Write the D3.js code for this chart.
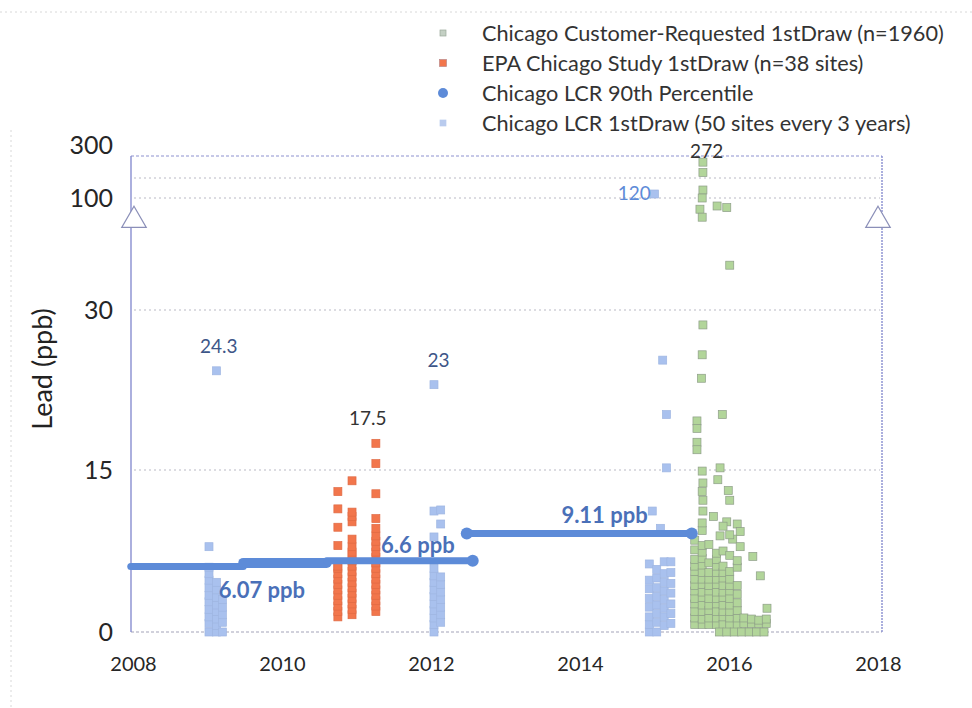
<!DOCTYPE html>
<html>
<head>
<meta charset="utf-8">
<script src="https://cdn.jsdelivr.net/npm/d3@7"></script>
<style>
  body { margin: 0; background: #fff; }
  svg { font-family: Lato, "Open Sans", sans-serif; }
</style>
</head>
<body>
<svg id="chart" width="972" height="708"></svg>
<script>
// Chicago LCR 1stDraw (light blue squares)
var lcrYears = [
  2009.02, 2009.02, 2009.02, 2009.02, 2009.02, 2009.02, 2009.02, 2009.02, 2009.02, 2009.02, 2009.02,
  2009.12, 2009.12, 2009.12, 2009.12, 2009.12, 2009.12, 2009.12, 2009.12, 2009.12,
  2009.2, 2009.2, 2009.2, 2009.2, 2009.2,
  2012.04, 2012.04, 2012.04, 2012.04, 2012.04, 2012.04, 2012.04, 2012.04, 2012.04, 2012.04, 2012.04, 2012.04, 2012.04,
  2012.13, 2012.13, 2012.13, 2012.13, 2012.13, 2012.13, 2012.13, 2012.13, 2012.13,
  2014.93, 2014.93, 2014.93, 2014.93, 2014.93, 2014.93, 2014.93, 2014.93,
  2015.03, 2015.03, 2015.03, 2015.03, 2015.03, 2015.03, 2015.03, 2015.03, 2014.97, 2015.0,
  2015.13, 2015.13, 2015.13, 2015.13, 2015.13, 2015.13, 2015.13, 2015.13, 2015.08, 2015.11,
  2015.22, 2015.22, 2015.22, 2015.22, 2015.22, 2015.22, 2015.22, 2015.16, 2015.16
];
var lcrValues = [
  0, 0.8, 1.4, 2.1, 2.8, 3.4, 4.1, 4.8, 5.4, 6.0, 7.9,
  0, 0.6, 1.2, 1.9, 2.5, 3.2, 3.9, 4.6, 24.3,
  0, 0.9, 1.6, 2.3, 3.0,
  0, 0.7, 1.3, 2.0, 2.6, 3.3, 3.9, 4.6, 5.2, 5.9, 8.8, 11.2, 23,
  0.9, 1.6, 2.3, 3.0, 3.7, 4.4, 5.1, 10.0, 11.3,
  0, 0.7, 1.4, 2.3, 3.1, 4.0, 4.8, 6.3,
  0, 0.9, 1.7, 2.5, 3.3, 4.1, 5.0, 5.8, 11.2, 120,
  0.6, 1.4, 2.2, 3.0, 3.8, 4.6, 5.4, 6.5, 9.6, 25.3,
  0.8, 1.7, 2.6, 3.6, 4.5, 5.5, 6.5, 15.2, 20.2
];

// EPA Chicago Study 1stDraw (orange squares)
var epaYears = [
  2010.75, 2010.75, 2010.75, 2010.75, 2010.75, 2010.75, 2010.75, 2010.75, 2010.75, 2010.75, 2010.75, 2010.75, 2010.75, 2010.75, 2010.75,
  2010.94, 2010.94, 2010.94, 2010.94, 2010.94, 2010.94, 2010.94, 2010.94, 2010.94, 2010.94, 2010.94, 2010.94, 2010.94, 2010.94, 2010.94, 2010.94, 2010.94, 2010.94, 2010.94,
  2011.26, 2011.26, 2011.26, 2011.26, 2011.26, 2011.26, 2011.26, 2011.26, 2011.26, 2011.26, 2011.26, 2011.26, 2011.26, 2011.26, 2011.26, 2011.26, 2011.26, 2011.26, 2011.26, 2011.26
];
var epaValues = [
  1.4, 1.9, 2.4, 2.9, 3.4, 3.9, 4.4, 4.9, 5.4, 5.9, 6.1, 8.0, 9.7, 11.4, 13.0,
  1.6, 2.1, 2.6, 3.1, 3.6, 4.1, 4.6, 5.1, 5.6, 6.1, 6.6, 7.1, 7.4, 7.9, 8.6, 10.2, 10.7, 11.1, 14.0,
  1.9, 2.4, 2.9, 3.4, 3.9, 4.4, 4.9, 5.4, 5.9, 6.4, 6.9, 7.4, 7.9, 8.4, 8.9, 9.6, 10.5, 12.8, 15.6, 17.5
];

// Chicago LCR 90th percentile (compliance periods)
var p90Start = [2007.97, 2009.48, 2010.6, 2012.48];
var p90End = [2009.48, 2010.6, 2012.56, 2015.5];
var p90Values = [6.07, 6.4, 6.6, 9.11];
var p90DotYears = [2012.56, 2012.48, 2015.5];
var p90DotValues = [6.6, 9.11, 9.11];

// Chicago Customer-Requested 1stDraw (green squares)
var custYears = [
  2015.65, 2015.65, 2015.65, 2015.64, 2015.61, 2015.64, 2015.84, 2015.97, 2016.01,
  2015.65, 2015.64, 2015.63, 2015.91, 2015.57, 2015.57, 2015.57, 2015.57,
  2015.88, 2015.64, 2015.85, 2015.65, 2015.99, 2015.64, 2016.01, 2015.65, 2015.65,
  2015.79, 2015.97, 2016.11, 2016.15, 2015.88, 2016.05, 2016.15, 2016.32, 2016.42, 2016.51,
  2015.54, 2015.54, 2015.54, 2015.54, 2015.54, 2015.54, 2015.54, 2015.54, 2015.54, 2015.54, 2015.54, 2015.54, 2015.54,
  2015.64, 2015.64, 2015.64, 2015.64, 2015.64, 2015.64, 2015.64, 2015.64, 2015.64, 2015.64, 2015.64, 2015.64, 2015.64, 2015.64, 2015.64,
  2015.73, 2015.73, 2015.73, 2015.73, 2015.73, 2015.73, 2015.73, 2015.73, 2015.73, 2015.73, 2015.73,
  2015.83, 2015.83, 2015.83, 2015.83, 2015.83, 2015.83, 2015.83, 2015.83, 2015.83, 2015.83, 2015.83, 2015.83,
  2015.92, 2015.92, 2015.92, 2015.92, 2015.92, 2015.92, 2015.92, 2015.92, 2015.92, 2015.92, 2015.92, 2015.92,
  2016.01, 2016.01, 2016.01, 2016.01, 2016.01, 2016.01, 2016.01, 2016.01, 2016.01, 2016.01, 2016.01,
  2016.11, 2016.11, 2016.11, 2016.11, 2016.11, 2016.11, 2016.11, 2016.11,
  2016.2, 2016.3, 2016.4, 2016.5, 2016.2, 2016.3, 2016.4, 2016.5,
  2015.87, 2015.97, 2016.07, 2016.17, 2016.27, 2016.37, 2016.47
];
var custValues = [
  272, 225, 140, 100, 93, 88, 95, 94, 58,
  28.6, 25.8, 23.6, 20.2, 19.6, 18.9, 17.6, 16.9,
  15.2, 14.9, 14.1, 13.8, 13.1, 13.0, 12.2, 12.2, 11.2,
  10.7, 10.2, 10.0, 9.3, 8.9, 8.6, 7.9, 7.0, 5.2, 2.2,
  0.7, 1.3, 1.9, 2.6, 3.1, 3.8, 4.3, 4.9, 5.6, 6.1, 6.7, 7.6, 8.5,
  0.7, 1.2, 1.9, 2.5, 3.2, 3.7, 4.4, 4.9, 5.5, 6.2, 6.8, 7.4, 8.0, 9.4, 10.1,
  0.7, 1.3, 2.0, 2.5, 3.1, 3.8, 4.3, 4.9, 5.5, 6.4, 8.1,
  0.7, 1.3, 1.9, 2.6, 3.1, 3.7, 4.4, 4.9, 5.5, 6.1, 6.7, 7.3,
  0.7, 1.4, 1.9, 2.5, 3.2, 3.7, 4.3, 5.0, 5.5, 6.1, 7.5, 9.8,
  0.7, 1.3, 1.9, 2.5, 3.1, 3.8, 4.3, 4.9, 5.6, 7.1, 9.0,
  0.7, 1.3, 2.0, 2.7, 3.5, 4.3, 6.0, 6.6,
  0.8, 0.8, 0.8, 0.8, 1.3, 1.2, 1.1, 1.2,
  0, 0, 0, 0, 0, 0, 0
];

// annotations
var noteYears = [2009.15, 2012.1, 2011.15, 2014.95, 2015.7];
var noteValues = [24.3, 23, 17.5, 120, 272];
var noteTexts = ['24.3', '23', '17.5', '120', '272'];
var ppbYears = [2009.15, 2011.33, 2013.75];
var ppbValues = [6.07, 6.6, 9.11];
var ppbTexts = ['6.07 ppb', '6.6 ppb', '9.11 ppb'];

var xTicks = [2008, 2010, 2012, 2014, 2016, 2018];
var yTicks = [0, 15, 30, 100, 300];
var gridValues = [15, 30, 100, 200];
var breakYears = [2008, 2018];
var breakValues = [86, 86];

var legendLabels = [
  'Chicago Customer-Requested 1stDraw (n=1960)',
  'EPA Chicago Study 1stDraw (n=38 sites)',
  'Chicago LCR 90th Percentile',
  'Chicago LCR 1stDraw (50 sites every 3 years)'
];

var svg = d3.select('#chart');

var x = d3.scaleLinear().domain([2008, 2018]).range([133, 878]);
// broken axis: linear to 30, then compressed segments
var y = d3.scaleLinear().domain([0, 15, 30, 100, 200, 300]).range([632, 470, 310, 198, 178, 156]);

var colLcr = '#a9c1ee', colEpa = '#f2764c', colP90 = '#5d8bd8', colCust = '#b2d59a';

// faint scan edges
svg.append('line').attr('x1', 0).attr('x2', 972).attr('y1', 12).attr('y2', 12)
  .attr('stroke', '#d8d8d8').attr('stroke-width', 1).attr('stroke-dasharray', '2,3');
svg.append('line').attr('x1', 11).attr('x2', 11).attr('y1', 130).attr('y2', 708)
  .attr('stroke', '#d8d8d8').attr('stroke-width', 1).attr('stroke-dasharray', '2,3');

// gridlines
svg.append('g').selectAll('line').data(gridValues).enter().append('line')
  .attr('x1', 134).attr('x2', 880)
  .attr('y1', function(d) { return y(d); }).attr('y2', function(d) { return y(d); })
  .attr('stroke', '#b9b9c4').attr('stroke-width', 1).attr('stroke-dasharray', '2,3');

// frame
svg.append('line').attr('x1', 131).attr('x2', 882).attr('y1', y(300)).attr('y2', y(300))
  .attr('stroke', '#8d91cf').attr('stroke-width', 1).attr('stroke-dasharray', '3,2');
svg.append('line').attr('x1', 131).attr('x2', 882).attr('y1', y(0)).attr('y2', y(0))
  .attr('stroke', '#a3a3b8').attr('stroke-width', 1).attr('stroke-dasharray', '3,2');
svg.append('line').attr('x1', 131).attr('x2', 131).attr('y1', y(300)).attr('y2', y(0))
  .attr('stroke', '#7f85cc').attr('stroke-width', 1.3);
svg.append('line').attr('x1', 882).attr('x2', 882).attr('y1', y(300)).attr('y2', y(0))
  .attr('stroke', '#7f85cc').attr('stroke-width', 1.3).attr('stroke-dasharray', '2,1');

// axis break markers
svg.append('g').selectAll('path').data(breakYears).enter().append('path')
  .attr('d', d3.symbol().type(d3.symbolTriangle).size(260))
  .attr('transform', function(d, i) { return 'translate(' + (x(d) + (i === 0 ? 1 : 0)) + ',' + y(breakValues[i]) + ')'; })
  .attr('fill', '#fff').attr('stroke', '#8b8fb8').attr('stroke-width', 1.2);

// axes
var yAxis = svg.append('g').attr('transform', 'translate(113,0)')
  .call(d3.axisLeft(y).tickValues(yTicks).tickSize(0).tickPadding(0));
yAxis.select('.domain').remove();
yAxis.selectAll('text').attr('font-size', 25).attr('fill', '#262626')
  .attr('font-family', 'Lato, sans-serif')
  .attr('dy', function(d) { return d === 300 ? '-0.1em' : '0.32em'; });

var xAxis = svg.append('g').attr('transform', 'translate(0,' + y(0) + ')')
  .call(d3.axisBottom(x).tickValues(xTicks).tickFormat(d3.format('d')).tickSize(0).tickPadding(25));
xAxis.select('.domain').remove();
xAxis.selectAll('text').attr('font-size', 20).attr('fill', '#262626')
  .attr('font-family', 'Lato, sans-serif');

svg.append('text').attr('transform', 'translate(52,369) rotate(-90)')
  .attr('text-anchor', 'middle').attr('font-size', 27).attr('fill', '#222')
  .text('Lead (ppb)');

function squares(cls, years, values, size, fill, stroke) {
  svg.append('g').attr('class', cls).selectAll('rect').data(values).enter().append('rect')
    .attr('x', function(d, i) { return x(years[i]) - size / 2; })
    .attr('y', function(d) { return y(d) - size / 2; })
    .attr('width', size).attr('height', size)
    .attr('fill', fill).attr('stroke', stroke).attr('stroke-width', 0.7);
}

squares('lcr', lcrYears, lcrValues, 8, colLcr, '#9fb6e2');
squares('epa', epaYears, epaValues, 8, colEpa, '#e06a44');
squares('cust', custYears, custValues, 8, colCust, '#8e9e88');

// 90th percentile
svg.append('g').selectAll('line').data(p90Values).enter().append('line')
  .attr('x1', function(d, i) { return x(p90Start[i]); })
  .attr('x2', function(d, i) { return x(p90End[i]); })
  .attr('y1', function(d) { return y(d); }).attr('y2', function(d) { return y(d); })
  .attr('stroke', colP90).attr('stroke-width', function(d, i) { return i === 1 ? 10 : 7; })
  .attr('stroke-linecap', 'round');
svg.append('g').selectAll('circle').data(p90DotValues).enter().append('circle')
  .attr('cx', function(d, i) { return x(p90DotYears[i]); })
  .attr('cy', function(d) { return y(d); })
  .attr('r', 6).attr('fill', colP90);

// labels
var noteColors = ['#3d5688', '#3d5688', '#333', '#5d8bd8', '#333'];
svg.append('g').selectAll('text').data(noteTexts).enter().append('text')
  .attr('x', function(d, i) { return x(noteYears[i]); })
  .attr('y', function(d, i) { return y(noteValues[i]) - (i === 3 ? -6 : (i === 4 ? 4 : 18)); })
  .attr('text-anchor', function(d, i) { return i === 3 ? 'end' : 'middle'; })
  .attr('font-size', 19).attr('fill', function(d, i) { return noteColors[i]; })
  .text(function(d) { return d; });

var ppbOffsets = [32, -8, -11];
svg.append('g').selectAll('text').data(ppbTexts).enter().append('text')
  .attr('x', function(d, i) { return x(ppbYears[i]); })
  .attr('y', function(d, i) { return y(ppbValues[i]) + ppbOffsets[i]; })
  .attr('font-size', 22).attr('font-weight', 'bold').attr('fill', '#4a70b8')
  .text(function(d) { return d; });

// legend
var legend = svg.append('g').attr('transform', 'translate(443,33)');
var rows = legend.selectAll('g').data(legendLabels).enter().append('g')
  .attr('transform', function(d, i) { return 'translate(0,' + (i * 30) + ')'; });
rows.each(function(d, i) {
  var g = d3.select(this);
  if (i === 2) {
    g.append('circle').attr('r', 5).attr('fill', colP90);
  } else {
    var s = [6, 7, 0, 6][i];
    g.append('rect').attr('x', -s / 2).attr('y', -s / 2).attr('width', s).attr('height', s)
      .attr('fill', [ '#c4d0c4', colEpa, '', '#b9cbee'][i]).attr('stroke', ['#9aa89a', '#b88', '', '#b9cbee'][i]).attr('stroke-width', 0.7);
  }
});
rows.append('text').attr('x', 39).attr('dy', '0.35em')
  .attr('font-size', 21.7).attr('fill', '#333')
  .text(function(d) { return d; });
</script>
</body>
</html>
